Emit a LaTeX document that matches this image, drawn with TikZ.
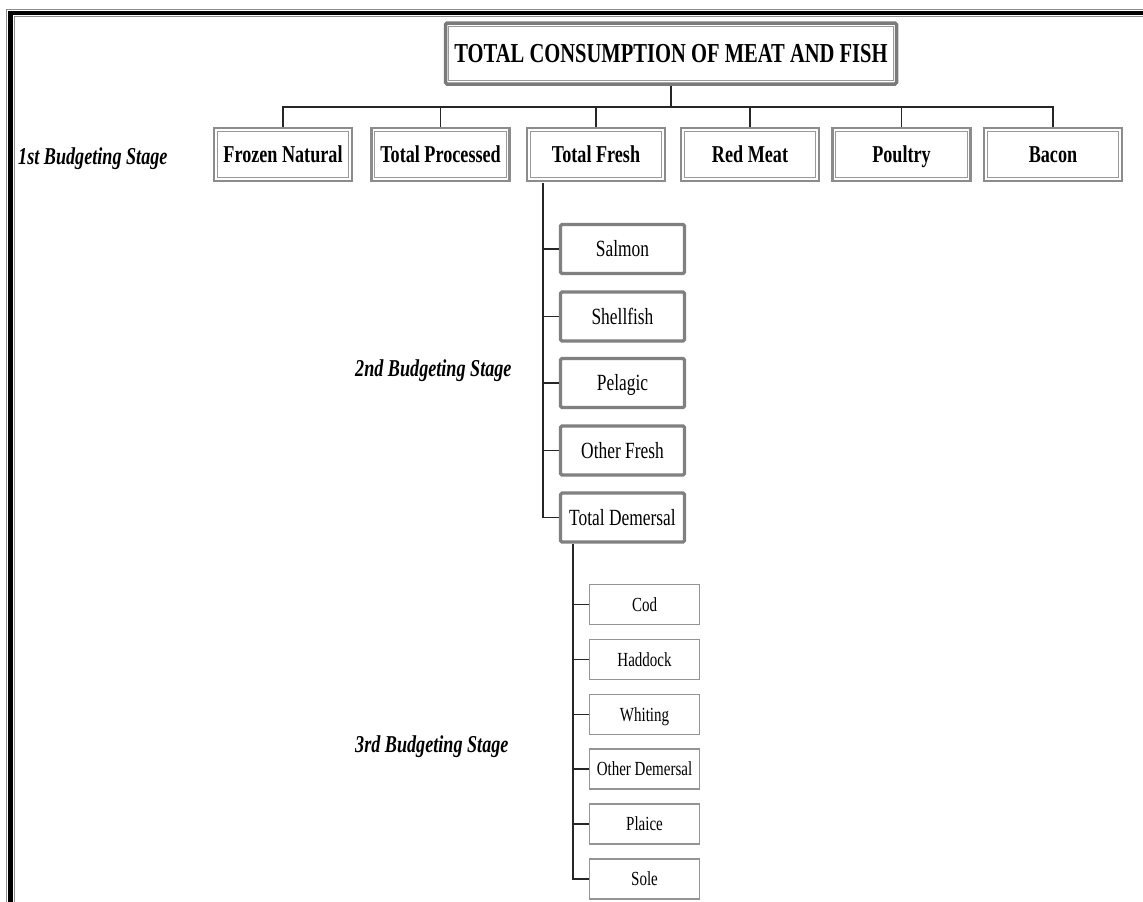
\documentclass[tikz,border=0pt]{standalone}
\usepackage{fontspec}
\setmainfont[FakeStretch=0.75]{Liberation Serif}
\begin{document}
\begin{tikzpicture}[x=1pt,y=-1pt,
  conn/.style={draw=black!85,line width=1.1pt},
  titlebox/.style={draw=black!52,line width=3.5pt,rounded corners=1.5pt,fill=white,
    minimum width=451pt,minimum height=61pt,inner sep=0pt,text height=18.1pt,text depth=0pt,
    font=\fontsize{27.4}{29}\selectfont\bfseries},
  lonebox/.style={draw=black!45,line width=2.2pt,fill=white,
    minimum width=138pt,minimum height=53pt,inner sep=0pt,text height=16pt,text depth=0pt,
    font=\fontsize{24.2}{26}\selectfont\bfseries},
  ltwobox/.style={draw=black!50,line width=3.2pt,rounded corners=1.5pt,fill=white,
    minimum width=124pt,minimum height=49pt,inner sep=0pt,text height=15.4pt,text depth=0pt,
    font=\fontsize{23.2}{25}\selectfont},
  lthreebox/.style={draw=black!42,line width=1.2pt,fill=white,
    minimum width=110pt,minimum height=40pt,inner sep=0pt,text height=13.2pt,text depth=0pt,
    font=\fontsize{20}{22}\selectfont},
  stagelbl/.style={inner sep=0pt,text height=16pt,text depth=0pt,font=\fontsize{24.2}{26}\selectfont\bfseries\itshape},
  innerline/.style={draw=black!40,line width=1.1pt}
]
\useasboundingbox (0,0) rectangle (1143,902);
% page border
\draw[draw=black!45,line width=1pt] (1143,9.5) -- (6.5,9.5) -- (6.5,902);
\draw[draw=black,line width=4.5pt] (1143,13) -- (10.5,13) -- (10.5,902);
\draw[draw=black!45,line width=1pt] (1143,16.5) -- (14.5,16.5) -- (14.5,902);

% title
\node[titlebox] (title) at (671,53.5) {TOTAL CONSUMPTION OF MEAT AND FISH};
\draw[innerline] ([shift={(5pt,-5pt)}]title.north west) rectangle ([shift={(-5pt,5pt)}]title.south east);

% first stage
\node[lonebox] (fn) at (283,154.5) {Frozen Natural};
\node[lonebox] (tp) at (440.5,154.5) {Total Processed};
\node[lonebox] (tf) at (596,154.5) {Total Fresh};
\node[lonebox] (rm) at (750,154.5) {Red Meat};
\node[lonebox] (po) at (901.5,154.5) {Poultry};
\node[lonebox] (ba) at (1053,154.5) {Bacon};
\foreach \n in {fn,tp,tf,rm,po,ba}{
  \draw[innerline] ([shift={(4.5pt,-4.5pt)}]\n.north west) rectangle ([shift={(-4.5pt,4.5pt)}]\n.south east);
}
\coordinate (bus) at (0,107);
\draw[conn] (fn.north) |- (bus -| ba.north) -- (ba.north);
\draw[conn] (title.south) -- (title.south |- bus);
\foreach \n in {tp,tf,rm,po}{
  \draw[conn] (\n.north) -- (\n.north |- bus);
}

% second stage
\node[ltwobox] (sa) at (622.5,249) {Salmon};
\node[ltwobox] (sh) at (622.5,316.5) {Shellfish};
\node[ltwobox] (pe) at (622.5,383) {Pelagic};
\node[ltwobox] (of) at (622.5,450.5) {Other Fresh};
\node[ltwobox] (td) at (622.5,517.5) {Total Demersal};
\coordinate (trunkA) at (543,183);
\draw[conn] (trunkA) |- (td.west);
\foreach \n in {sa,sh,pe,of}{
  \draw[conn] (\n.west) -- (\n.west -| trunkA);
}

% third stage
\node[lthreebox] (cod) at (644.5,604.5) {Cod};
\node[lthreebox] (had) at (644.5,659.5) {Haddock};
\node[lthreebox] (whi) at (644.5,714.5) {Whiting};
\node[lthreebox] (od) at (644.5,769) {Other Demersal};
\node[lthreebox] (pla) at (644.5,824) {Plaice};
\node[lthreebox] (sole) at (644.5,879) {Sole};
\coordinate (trunkB) at (573,544);
\draw[conn] (trunkB) |- (sole.west);
\foreach \n in {cod,had,whi,od,pla}{
  \draw[conn] (\n.west) -- (\n.west -| trunkB);
}

% stage labels
\node[stagelbl,anchor=west] (s1) at (18,156) {1st Budgeting Stage};
\node[stagelbl,anchor=west] (s2) at (355,368) {2nd Budgeting Stage};
\node[stagelbl,anchor=west] (s3) at (355,744) {3rd Budgeting Stage};
\end{tikzpicture}
\end{document}
